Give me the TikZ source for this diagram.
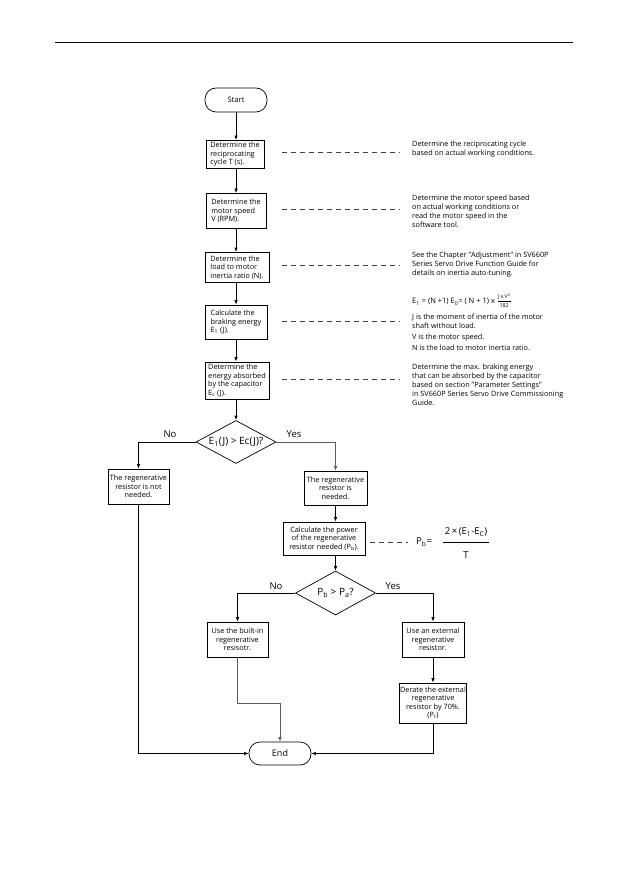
\documentclass[tikz,border=0pt]{standalone}
\usepackage{fontspec}
\setmainfont{Open Sans}
\usetikzlibrary{arrows.meta,shapes.geometric}
\begin{document}
\begin{tikzpicture}[x=1pt,y=-1pt,
  boxtxt/.style={font=\fontsize{7.3}{8.5}\selectfont},
  stepbox/.style={draw, line width=0.8pt, inner sep=1.2pt, boxtxt, align=left},
  cbox/.style={draw, line width=0.8pt, inner sep=1.2pt, boxtxt, align=center},
  term/.style={draw, line width=0.7pt, rounded corners=11pt, minimum width=62pt, inner sep=0pt},
  dia/.style={draw, line width=0.7pt, diamond, inner sep=0pt},
  arr/.style={line width=0.8pt, -{Latex[length=4.5pt,width=3.5pt]}},
  garr/.style={line width=0.6pt, draw=black!65, -{Latex[length=4.5pt,width=3.5pt]}},
  dashln/.style={line width=0.7pt, draw=black!75, dash pattern=on 5pt off 4pt},
  note/.style={anchor=north west, inner sep=0pt, align=left, font=\fontsize{7.3}{9}\selectfont},
  lbl/.style={font=\fontsize{9.5}{10}\selectfont},
  tiny/.style={inner sep=0pt, font=\fontsize{5.3}{5.5}\selectfont},
]
\useasboundingbox (0,0) rectangle (629,893);
\fill[white] (0,0) rectangle (629,893);

% header rule
\coordinate (h1) at (55,42);
\coordinate (h2) at (573,42);
\draw[line width=0.8pt] (h1) -- (h2);

% main column
\node[term, minimum height=24pt, font=\fontsize{7.6}{8}\selectfont] (start) at (236,100) {Start};
\node[stepbox, minimum width=58pt, minimum height=28pt] (b1) at (235,154.5) {Determine the\\reciprocating\\cycle T (s).};
\node[stepbox, minimum width=60pt, minimum height=35pt] (b2) at (236,211) {Determine the\\motor speed\\V (RPM).};
\node[stepbox, minimum width=64pt, minimum height=30pt] (b3) at (237,267.5) {Determine the\\load to motor\\inertia ratio (N).};
\node[stepbox, minimum width=62pt, minimum height=34pt] (b4) at (236,322) {Calculate the\\braking energy\\E\textsubscript{1} (J).};
\node[stepbox, minimum width=64pt, minimum height=37pt] (b5) at (237,380.5) {Determine the\\energy absorbed\\by the capacitor\\E\textsubscript{c} (J).};

\node[dia, minimum width=80pt, minimum height=43pt] (d1) at (236,442) {};
\node[font=\fontsize{10}{11}\selectfont, inner sep=0pt] (d1t) at (d1.center) {E\textsubscript{1}(J) > Ec(J)?};

\node[cbox, minimum width=61pt, minimum height=35pt] (no1) at (138.5,486.5) {The regenerative\\resistor is not\\needed.};
\node[cbox, minimum width=63pt, minimum height=34pt] (yes1) at (335.5,488) {The regenerative\\resistor is\\needed.};
\node[cbox, minimum width=82pt, minimum height=33pt] (calc) at (324,538.5) {Calculate the power\\of the regenerative\\resistor needed (P\textsubscript{b}).};

\node[dia, minimum width=80pt, minimum height=44pt] (d2) at (335.5,593) {};
\node[font=\fontsize{10}{11}\selectfont, inner sep=0pt] (d2t) at (d2.center) {P\textsubscript{b} > P\textsubscript{a}?};

\node[cbox, minimum width=61pt, minimum height=35pt] (bin) at (237.5,639.5) {Use the built-in\\regenerative\\resisotr.};
\node[cbox, minimum width=62pt, minimum height=35pt] (ext) at (433,639.5) {Use an external\\regenerative\\resistor.};
\node[cbox, minimum width=62pt, minimum height=40pt, inner sep=0.6pt] (der) at (433,703) {Derate the external\\regenerative\\resistor by 70\%.\\(P\textsubscript{r})};

\node[term, minimum height=23pt, font=\fontsize{9}{10}\selectfont] (end) at (280,753.5) {End};

% connectors
\draw[arr] (start.south) -- (start.south |- b1.north);
\draw[arr] (b1.south -| start.south) -- (start.south |- b2.north);
\draw[arr] (b2.south) -- (b2.south |- b3.north);
\draw[arr] (b3.south -| b2.south) -- (b2.south |- b4.north);
\draw[arr] (b4.south) -- (b4.south |- b5.north);
\draw[arr] (b5.south -| b4.south) -- (d1.north);
\draw[arr] (d1.west) -| (no1.north);
\draw[garr] (d1.east) -| (yes1.north);
\node[lbl] (lno1) at (170,434) {No};
\node[lbl] (lyes1) at (294,434) {Yes};
\draw[arr] (yes1.south) -- (yes1.south |- calc.north);
\draw[arr] (d2.north |- calc.south) -- (d2.north);
\draw[arr] (d2.west) -| (bin.north);
\draw[arr] (d2.east) -| (ext.north);
\node[lbl] (lno2) at (276,586) {No};
\node[lbl] (lyes2) at (393,586) {Yes};
\draw[arr] (ext.south) -- (der.north);
\draw[arr] (no1.south) |- (end.west);
\draw[garr] (bin.south) -- ++(0,46) -| (end.north);
\draw[arr] (der.south) |- (end.east);

% dashed leaders
\coordinate (l1a) at (282,152); \coordinate (l1b) at (400,152);
\coordinate (l2a) at (282,209); \coordinate (l2b) at (400,209);
\coordinate (l3a) at (282,265); \coordinate (l3b) at (400,265);
\coordinate (l4a) at (282,321); \coordinate (l4b) at (400,321);
\coordinate (l5a) at (282,379); \coordinate (l5b) at (400,379);
\coordinate (l6a) at (370,542); \coordinate (l6b) at (408,542);
\draw[dashln] (l1a) -- (l1b);
\draw[dashln] (l2a) -- (l2b);
\draw[dashln] (l3a) -- (l3b);
\draw[dashln] (l4a) -- (l4b);
\draw[dashln] (l5a) -- (l5b);
\draw[dashln] (l6a) -- (l6b);

% notes
\node[note] (n1) at (412,141) {Determine the reciprocating cycle\\based on actual working conditions.};
\node[note] (n2) at (412,195) {Determine the motor speed based\\on actual working conditions or\\read the motor speed in the\\software tool.};
\node[note] (n3) at (412,252) {See the Chapter "Adjustment" in SV660P\\Series Servo Drive Function Guide for\\details on inertia auto-tuning.};
\node[anchor=west, inner sep=0pt, font=\fontsize{7.5}{8}\selectfont] (n4f) at (412,302)
  {E\textsubscript{1} = (N +1) E\textsubscript{0}= ( N + 1) x};
\node[tiny] (fnum) at ([xshift=9pt]n4f.east |- 0,296.5) {J x V\textsuperscript{2}};
\node[tiny] (fden) at (fnum.center |- 0,305.5) {182};
\draw[line width=0.4pt] (fnum.west |- 0,300.8) -- (fnum.east |- 0,300.8);
\node[note] (n4a) at (412,313.5) {J is the moment of inertia of the motor\\shaft without load.};
\node[note] (n4b) at (412,334) {V is the motor speed.};
\node[note] (n4c) at (412,345) {N is the load to motor inertia ratio.};
\node[note] (n5) at (412,364) {Determine the max. braking energy\\that can be absorbed by the capacitor\\based on section "Parameter Settings"\\in SV660P Series Servo Drive Commissioning\\Guide.};

% power formula
\node[anchor=west, inner sep=0pt, font=\fontsize{9.5}{10}\selectfont] (pb) at (416,542) {P\textsubscript{b}=};
\node[inner sep=0pt, font=\fontsize{9.5}{10}\selectfont] (num) at (466,532) {2\,×\,(E\textsubscript{1}-E\textsubscript{C})};
\coordinate (fa) at (443,542); \coordinate (fb) at (489,542);
\draw[line width=0.6pt] (fa) -- (fb);
\node[inner sep=0pt, font=\fontsize{9.5}{10}\selectfont] (den) at (466,555) {T};
\end{tikzpicture}
\end{document}
